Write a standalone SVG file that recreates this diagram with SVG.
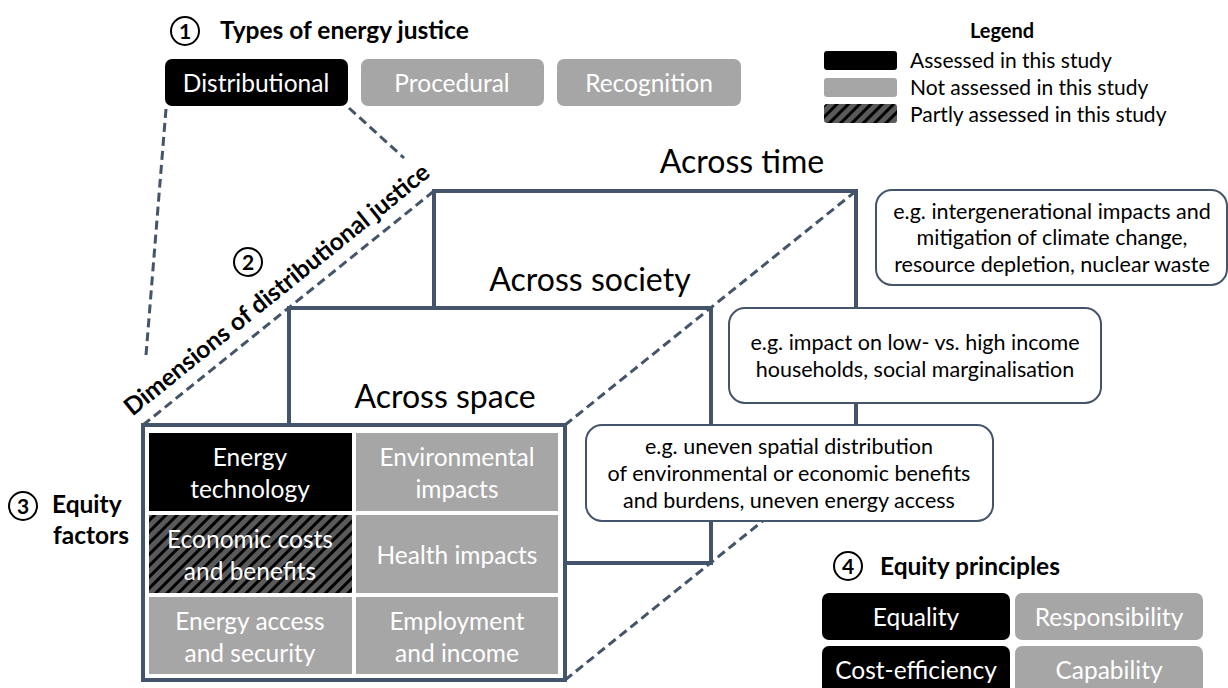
<svg xmlns="http://www.w3.org/2000/svg" width="1228" height="688" viewBox="0 0 1228 688">
<style>
text{font-family:Lato,"Open Sans","Liberation Sans",sans-serif;}
.h{font-weight:bold;font-size:24.5px;fill:#000;}
.w{fill:#fff;font-size:24.5px;text-anchor:middle;}
.ax{font-size:32px;fill:#000;text-anchor:middle;}
.c{font-size:21.5px;fill:#000;text-anchor:middle;}
.lg{font-size:21px;fill:#000;}
.num{font-weight:bold;font-size:21px;text-anchor:middle;fill:#000;}
.circ{fill:none;stroke:#000;stroke-width:2;}
.blk{fill:#000;}
.gry{fill:#a6a6a6;}
.box{fill:#fff;stroke:#44546a;stroke-width:4;}
.dash{fill:none;stroke:#44546a;stroke-width:3;stroke-dasharray:9 5;}
.call{fill:#fff;stroke:#44546a;stroke-width:2;}
</style>
<defs>
<pattern id="hatch" width="8" height="8" patternUnits="userSpaceOnUse" patternTransform="rotate(45)">
<rect width="8" height="8" fill="#5a5a5a"/>
<rect width="3" height="8" fill="#000"/>
</pattern>
</defs>

<g id="types">
<circle class="circ" cx="185" cy="31" r="14"/><text class="num" x="185" y="38.5">1</text>
<text class="h" x="220" y="39">Types of energy justice</text>
</g>
<g id="distributional"><rect class="blk" x="165" y="59" width="183" height="47" rx="7"/><text class="w" x="256" y="92">Distributional</text></g>
<g id="procedural"><rect class="gry" x="361" y="59" width="183" height="47" rx="7"/><text class="w" x="452" y="92">Procedural</text></g>
<g id="recognition"><rect class="gry" x="557" y="59" width="184" height="47" rx="7"/><text class="w" x="649" y="92">Recognition</text></g>

<g id="legend">
<text x="1002" y="38" style="font-weight:bold;font-size:20px;text-anchor:middle">Legend</text>
<rect class="blk" x="824" y="51" width="73" height="19" rx="3"/>
<rect class="gry" x="824" y="78" width="73" height="19" rx="3"/>
<rect fill="url(#hatch)" x="824" y="104" width="73" height="19" rx="3"/>
<text class="lg" x="910" y="68">Assessed in this study</text>
<text class="lg" x="910" y="95">Not assessed in this study</text>
<text class="lg" x="910" y="122">Partly assessed in this study</text>
</g>

<g id="time-box"><rect class="box" x="434" y="191" width="422" height="255"/><text class="ax" x="742" y="173">Across time</text></g>
<g id="society-box"><rect class="box" x="289" y="308" width="422" height="255"/><text class="ax" x="590" y="291">Across society</text></g>
<g id="space-box"><rect class="box" x="143" y="425" width="422" height="255"/><text class="ax" x="445" y="408">Across space</text></g>

<g id="connectors">
<line class="dash" x1="166" y1="109" x2="146" y2="355"/>
<line class="dash" x1="349" y1="108" x2="404" y2="158"/>
<line class="dash" x1="143" y1="425" x2="434" y2="191"/>
<line class="dash" x1="565" y1="425" x2="856" y2="191"/>
<line class="dash" x1="565" y1="680" x2="856" y2="446"/>
</g>

<g id="dimensions">
<circle class="circ" cx="248" cy="262" r="14"/><text class="num" x="248" y="269.5">2</text>
<text class="h" transform="translate(282 296) rotate(-38.9)" text-anchor="middle" x="0" y="0">Dimensions of distributional justice</text>
</g>

<g id="cell-tech"><rect class="blk" x="149" y="433" width="203" height="78"/><text class="w" x="250" y="466">Energy</text><text class="w" x="250" y="498">technology</text></g>
<g id="cell-env"><rect class="gry" x="356" y="433" width="202" height="78"/><text class="w" x="457" y="466">Environmental</text><text class="w" x="457" y="498">impacts</text></g>
<g id="cell-econ"><rect fill="url(#hatch)" x="149" y="515" width="203" height="78"/><text class="w" x="250" y="548">Economic costs</text><text class="w" x="250" y="580">and benefits</text></g>
<g id="cell-health"><rect class="gry" x="356" y="515" width="202" height="78"/><text class="w" x="457" y="564">Health impacts</text></g>
<g id="cell-access"><rect class="gry" x="149" y="597" width="203" height="77"/><text class="w" x="250" y="630">Energy access</text><text class="w" x="250" y="662">and security</text></g>
<g id="cell-employ"><rect class="gry" x="356" y="597" width="202" height="77"/><text class="w" x="457" y="630">Employment</text><text class="w" x="457" y="662">and income</text></g>

<g id="equity-factors">
<circle class="circ" cx="23" cy="506" r="14"/><text class="num" x="23" y="513.5">3</text>
<text class="h" x="52" y="513">Equity</text>
<text class="h" x="53" y="544">factors</text>
</g>

<g id="callout-time"><rect class="call" x="876" y="190" width="351" height="95" rx="16"/>
<text class="c" x="1052" y="219">e.g. intergenerational impacts and</text>
<text class="c" x="1052" y="245">mitigation of climate change,</text>
<text class="c" x="1052" y="272">resource depletion, nuclear waste</text></g>
<g id="callout-society"><rect class="call" x="729" y="308" width="372" height="95" rx="16"/>
<text class="c" x="915" y="350">e.g. impact on low- vs. high income</text>
<text class="c" x="915" y="377">households, social marginalisation</text></g>
<g id="callout-space"><rect class="call" x="586" y="425" width="407" height="96" rx="16"/>
<text class="c" x="789" y="454">e.g. uneven spatial distribution</text>
<text class="c" x="789" y="481">of environmental or economic benefits</text>
<text class="c" x="789" y="508">and burdens, uneven energy access</text></g>

<g id="equity-principles">
<circle class="circ" cx="848" cy="566" r="14"/><text class="num" x="848" y="573.5">4</text>
<text class="h" x="880" y="575">Equity principles</text>
</g>
<g id="equality"><rect class="blk" x="822" y="593" width="188" height="47" rx="7"/><text class="w" x="916" y="626">Equality</text></g>
<g id="responsibility"><rect class="gry" x="1015" y="593" width="188" height="47" rx="7"/><text class="w" x="1109" y="626">Responsibility</text></g>
<g id="cost-efficiency"><rect class="blk" x="822" y="646" width="188" height="50" rx="7"/><text class="w" x="916" y="679">Cost-efficiency</text></g>
<g id="capability"><rect class="gry" x="1015" y="646" width="188" height="50" rx="7"/><text class="w" x="1109" y="679">Capability</text></g>
</svg>
